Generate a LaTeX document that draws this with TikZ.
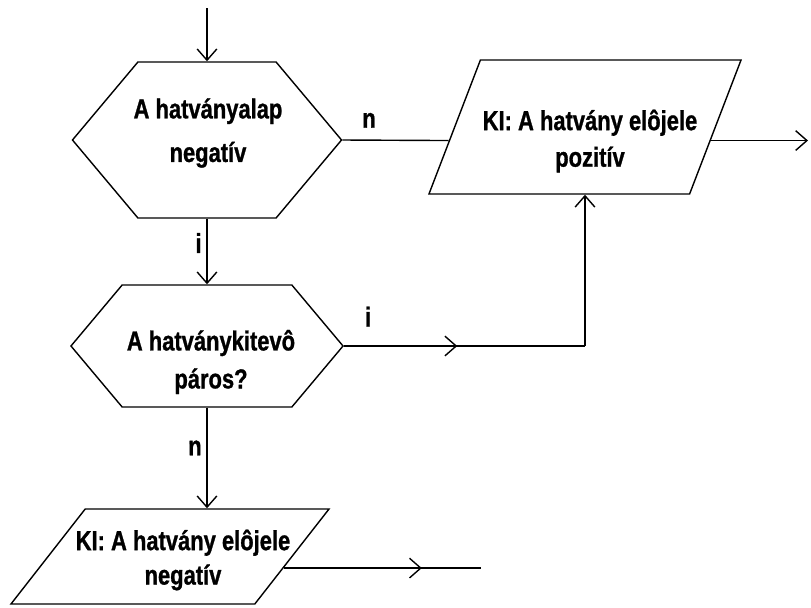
\documentclass[tikz,border=0pt]{standalone}
\usepackage{fontspec}
\setmainfont{Liberation Sans}[FakeStretch=0.8, BoldFeatures={FakeBold=1}]
\usepackage{tikz}
\usetikzlibrary{positioning}
\usetikzlibrary{calc}
\usetikzlibrary{shapes.symbols}
\usetikzlibrary{shapes.geometric}
\usetikzlibrary{arrows.meta}
\usetikzlibrary{decorations.markings}

\begin{document}
\begin{tikzpicture}[x=0.025cm, y=-0.025cm, line width=1pt,
  >={Straight Barb[length=8pt,width=14pt]},
  every node/.style={font=\fontsize{19.5}{26}\selectfont\bfseries},
  dontes/.style={draw, signal, signal to=west and east, signal pointer angle=100, inner sep=0pt},
  kiir/.style={draw, trapezium, trapezium stretches body=true, inner xsep=0pt},
  felirat/.style={align=center, inner sep=0pt},
  midarrow/.style={decoration={markings, mark=at position #1 with {\arrow{>}}}, postaction={decorate}}]

\useasboundingbox (0,0) rectangle (811,607);

% decisions
\node[dontes, minimum width=6.725cm, minimum height=3.9cm] (alap) at (207,140) {};
\node[dontes, minimum width=6.8cm, minimum height=3.05cm] (kitevo) at (207,346) {};

% outputs
\node[kiir, trapezium left angle=69, trapezium right angle=111, inner ysep=1.675cm,
      minimum width=7.8cm] (pozitiv) at (585,127) {};
\node[kiir, trapezium left angle=52, trapezium right angle=128, inner ysep=1.1875cm,
      minimum width=7.95cm] (negativ) at (170,556.5) {};

% texts
\node[felirat] (alaptxt) at (208,133) {A hatványalap\\[5pt]negatív};
\node[felirat] (kitevotxt) at (211,362) {A hatványkitevô\\[1pt]páros?};
\node[felirat] (pozitivtxt) at (590,141) {KI: A hatvány elôjele\\pozitív};
\node[felirat] (negativtxt) at (183,560) {KI: A hatvány elôjele\\[-1.5pt]negatív};

% connector ends
\coordinate (start) at (207,8);
\coordinate (vege1) at (808,0);
\coordinate (vege2) at (481,0);
\coordinate (pin) at ($(pozitiv.bottom left corner)!0.4!(pozitiv.top left corner)$);
\coordinate (pout) at ($(pozitiv.bottom right corner)!0.4!(pozitiv.top right corner)$);
\coordinate (nout) at ($(negativ.bottom right corner)!0.38!(negativ.top right corner)$);
\coordinate (sarok) at (kitevo.east -| pozitiv.south);

\draw[->] (start) -- (alap.north);
\draw[->] (alap.south) -- node[left, pos=0.37]{i} (kitevo.north);
\draw (alap.east) -- node[above=5pt, pos=0.25]{n} (pin);
\draw[midarrow=0.47] (kitevo.east) -- node[above=10pt, pos=0.1]{i} (sarok);
\draw[->] (sarok) -- (pozitiv.south);
\draw[->] (kitevo.south) -- node[left, pos=0.4]{n} (kitevo.south |- negativ.north);
\draw[->] (pout) -- (pout -| vege1);
\draw[midarrow=0.7] (nout) -- (nout -| vege2);

\end{tikzpicture}
\end{document}
